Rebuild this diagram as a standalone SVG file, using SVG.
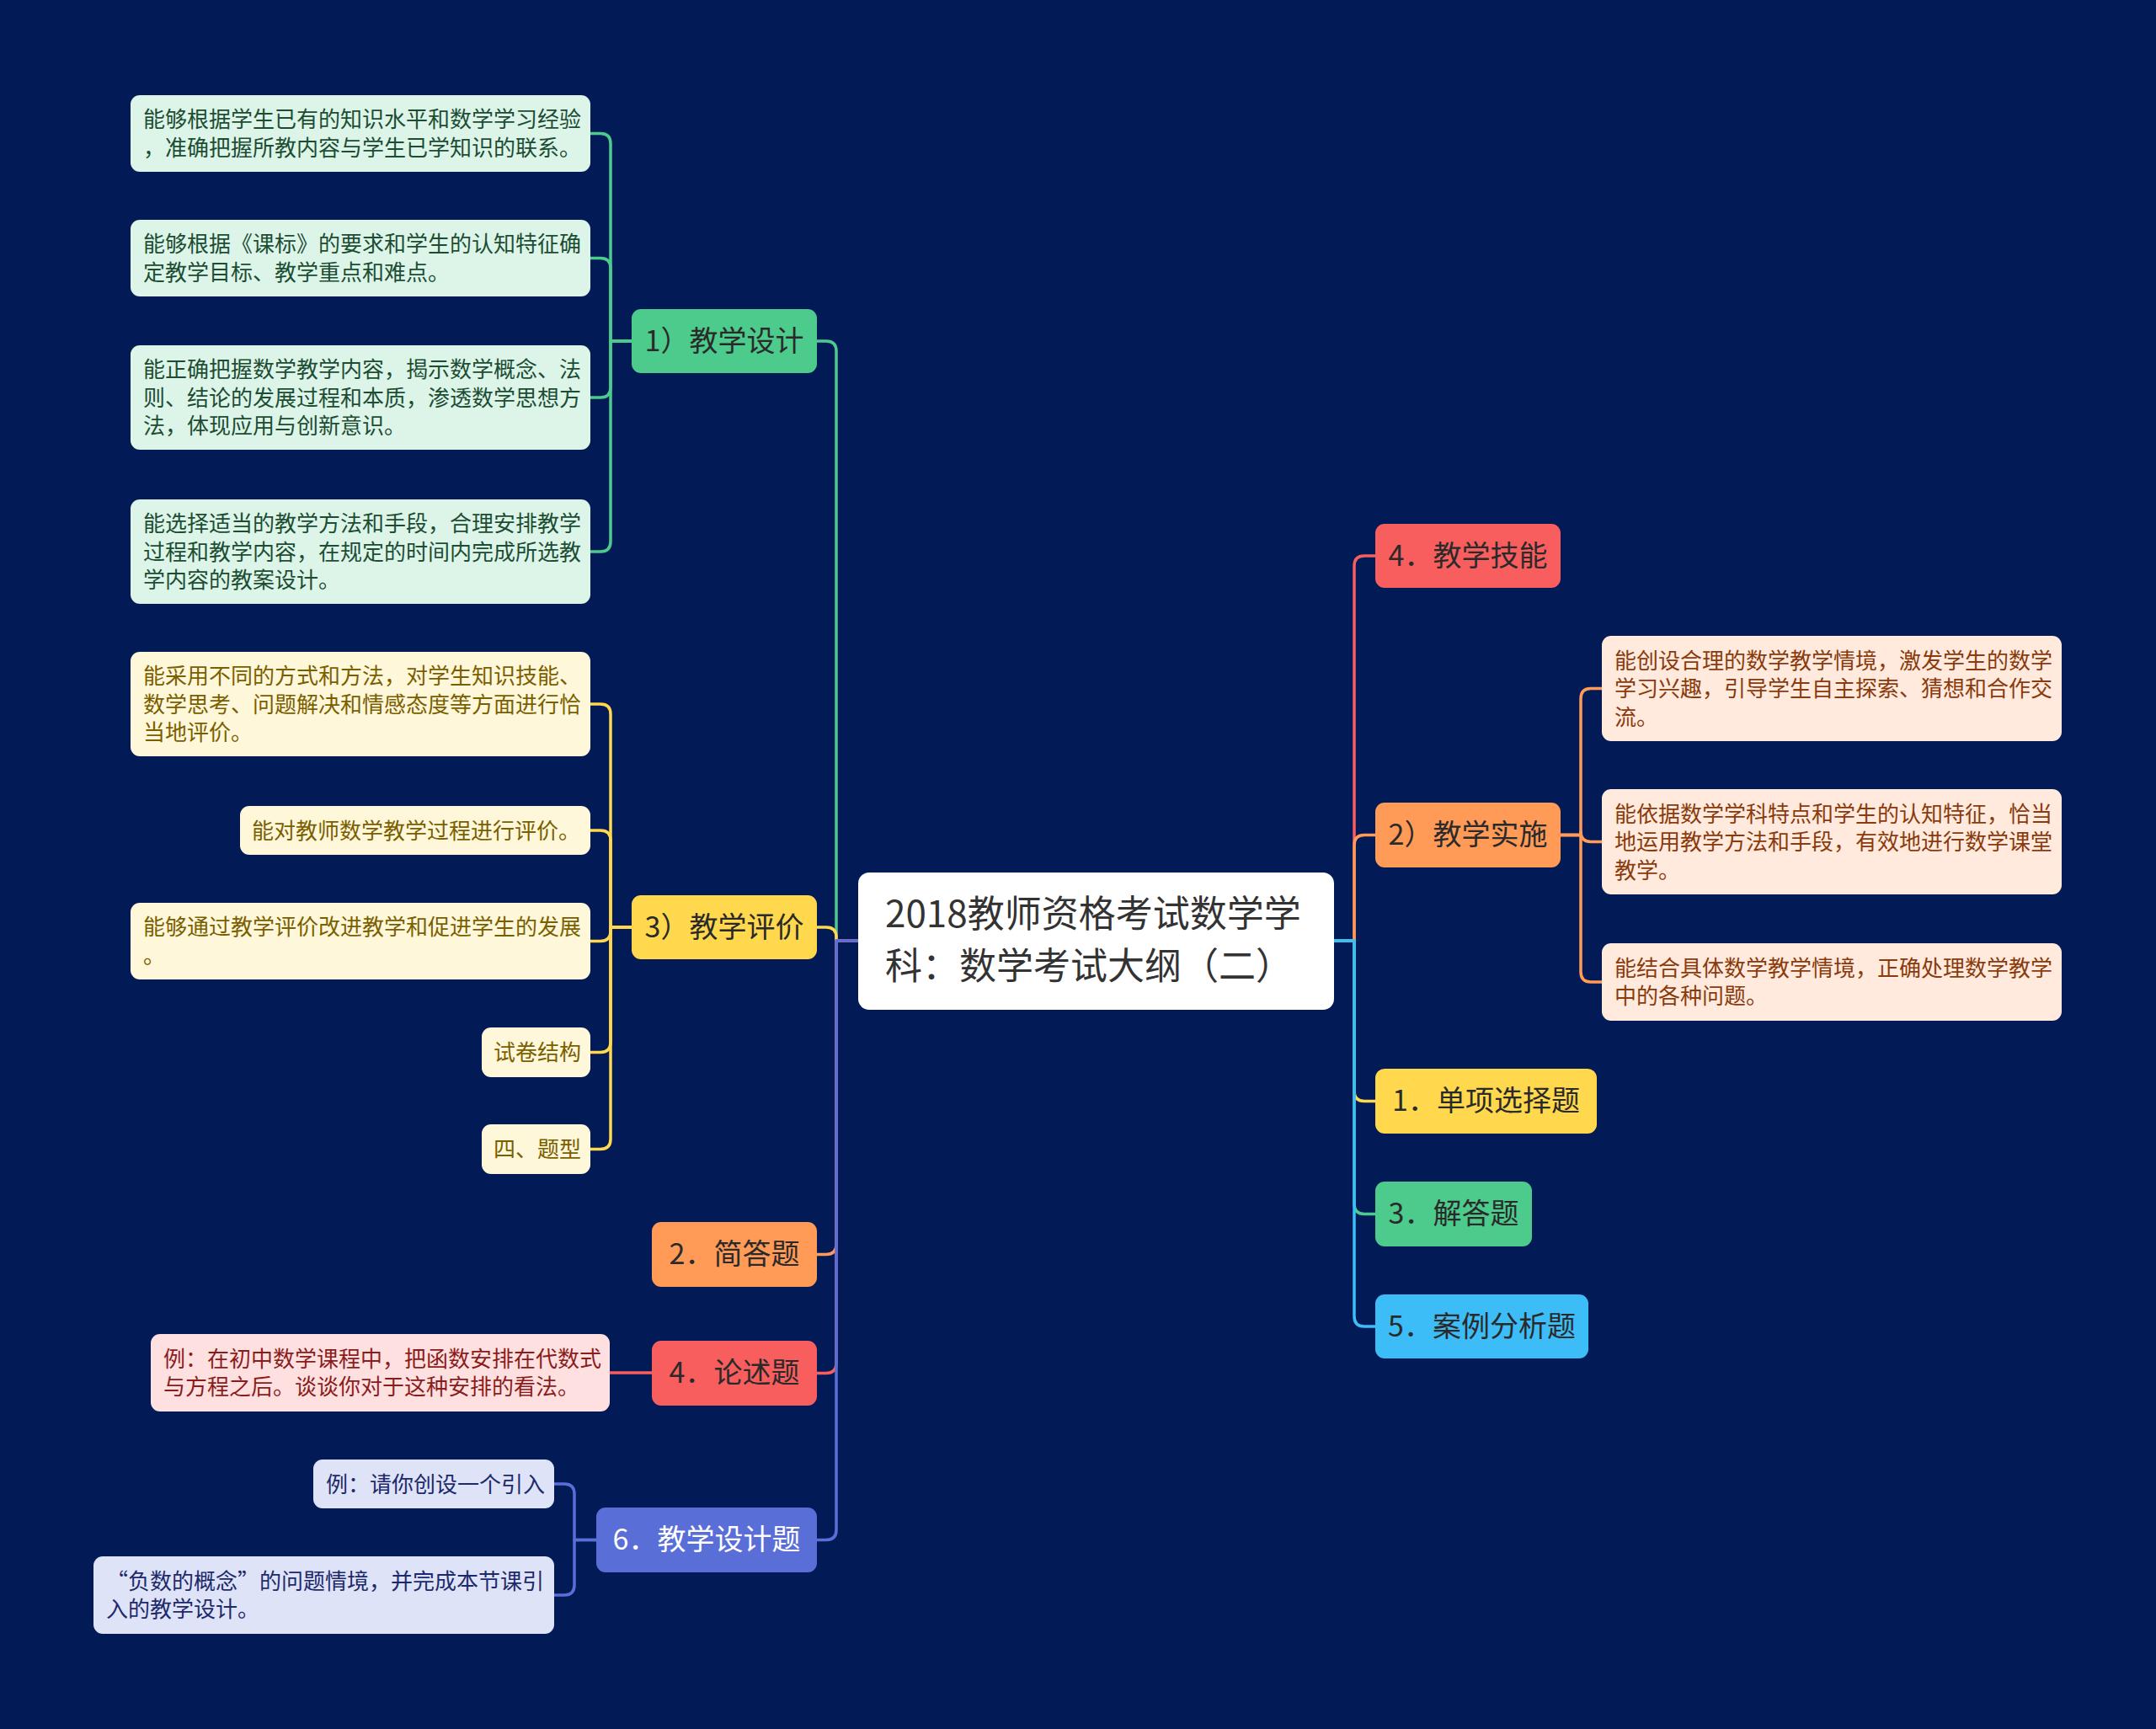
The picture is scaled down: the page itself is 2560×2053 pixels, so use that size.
<svg xmlns="http://www.w3.org/2000/svg" width="2560" height="2053" viewBox="0 0 2560 2053">
<style>
text{font-family:"Noto Sans CJK SC","Noto Sans",sans-serif}
.c{fill:none;stroke-width:3.5;stroke-linecap:round;stroke-linejoin:round}
.l1{font-size:34px;text-anchor:middle;fill:#2a2a2a}
.lf{font-size:26px}
.root{font-size:44px;fill:#333333}
.g{stroke:#4ccb8c}.y{stroke:#ffd84d}.o{stroke:#ff9a57}.r{stroke:#f85e5e}.b{stroke:#5a6ed8}.s{stroke:#3dbdf8}
</style>
<rect x="0" y="0" width="2560" height="2053" fill="#021b56"/>
<g id="connectors">
<path class="c g" d="M1019 1117 H993 V417 Q993 405 981 405 H970"/>
<path class="c y" d="M1019 1117 H993 V1113 Q993 1101 981 1101 H970"/>
<path class="c o" d="M1019 1117 H993 V1477.5 Q993 1489.5 981 1489.5 H970"/>
<path class="c r" d="M1019 1117 H993 V1618.5 Q993 1630.5 981 1630.5 H970"/>
<path class="c b" d="M1019 1117 H993 V1816.5 Q993 1828.5 981 1828.5 H970"/>
<path class="c r" d="M1584 1117 H1608 V672 Q1608 660 1620 660 H1633"/>
<path class="c o" d="M1584 1117 H1608 V1003.5 Q1608 991.5 1620 991.5 H1633"/>
<path class="c y" d="M1584 1117 H1608 V1295.5 Q1608 1307.5 1620 1307.5 H1633"/>
<path class="c g" d="M1584 1117 H1608 V1429.5 Q1608 1441.5 1620 1441.5 H1633"/>
<path class="c s" d="M1584 1117 H1608 V1563 Q1608 1575 1620 1575 H1633"/>
<path class="c g" d="M750 405 H725 V170.5 Q725 158.5 713 158.5 H701"/>
<path class="c g" d="M750 405 H725 V318.5 Q725 306.5 713 306.5 H701"/>
<path class="c g" d="M750 405 H725 V460 Q725 472 713 472 H701"/>
<path class="c g" d="M750 405 H725 V643 Q725 655 713 655 H701"/>
<path class="c y" d="M750 1101 H725 V848 Q725 836 713 836 H701"/>
<path class="c y" d="M750 1101 H725 V998 Q725 986 713 986 H701"/>
<path class="c y" d="M750 1101 H725 V1105.5 Q725 1117.5 713 1117.5 H701"/>
<path class="c y" d="M750 1101 H725 V1237.5 Q725 1249.5 713 1249.5 H701"/>
<path class="c y" d="M750 1101 H725 V1352.5 Q725 1364.5 713 1364.5 H701"/>
<path class="c r" d="M774 1630 H724"/>
<path class="c b" d="M708 1828.5 H682 V1774 Q682 1762 670 1762 H658"/>
<path class="c b" d="M708 1828.5 H682 V1882 Q682 1894 670 1894 H658"/>
<path class="c o" d="M1853 991.5 H1877 V829.5 Q1877 817.5 1889 817.5 H1902"/>
<path class="c o" d="M1853 991.5 H1877 V987.5 Q1877 999.5 1889 999.5 H1902"/>
<path class="c o" d="M1853 991.5 H1877 V1154 Q1877 1166 1889 1166 H1902"/>
</g>
<g id="root">
<rect x="1019" y="1036" width="565" height="163" rx="13" fill="#ffffff"/>
<text class="root" x="1051" y="1101">2018教师资格考试数学学</text>
<text class="root" x="1051" y="1163">科：数学考试大纲（二）</text>
</g>
<g id="n-jxsj">
<rect x="750" y="367" width="220" height="76" rx="11" fill="#4ccb8c"/>
<text class="l1" x="860" y="417">1）教学设计</text>
</g>
<g id="n-jxpj">
<rect x="750" y="1063" width="220" height="76" rx="11" fill="#ffd84d"/>
<text class="l1" x="860" y="1113">3）教学评价</text>
</g>
<g id="n-jdt">
<rect x="774" y="1451" width="196" height="77" rx="11" fill="#ff9a57"/>
<text class="l1" x="872" y="1501">2．简答题</text>
</g>
<g id="n-lst">
<rect x="774" y="1592" width="196" height="77" rx="11" fill="#f85e5e"/>
<text class="l1" x="872" y="1642">4．论述题</text>
</g>
<g id="n-jxsjt">
<rect x="708" y="1790" width="262" height="77" rx="11" fill="#5a6ed8"/>
<text class="l1" x="839" y="1840" style="fill:#ffffff">6．教学设计题</text>
</g>
<g id="n-jxjn">
<rect x="1633" y="622" width="220" height="76" rx="11" fill="#f85e5e"/>
<text class="l1" x="1743" y="672">4．教学技能</text>
</g>
<g id="n-jxss">
<rect x="1633" y="953" width="220" height="77" rx="11" fill="#ff9a57"/>
<text class="l1" x="1743" y="1003">2）教学实施</text>
</g>
<g id="n-dxxzt">
<rect x="1633" y="1269" width="263" height="77" rx="11" fill="#ffd84d"/>
<text class="l1" x="1764.5" y="1319">1．单项选择题</text>
</g>
<g id="n-jdt3">
<rect x="1633" y="1403" width="186" height="77" rx="11" fill="#4ccb8c"/>
<text class="l1" x="1726" y="1453">3．解答题</text>
</g>
<g id="n-alfxt">
<rect x="1633" y="1537" width="253" height="76" rx="11" fill="#3dbdf8"/>
<text class="l1" x="1759.5" y="1587">5．案例分析题</text>
</g>
<g id="leaf-g1" fill="#1c4d33">
<rect x="155" y="113" width="546" height="91" rx="11" fill="#ddf5e9"/>
<text class="lf" x="170" y="151">能够根据学生已有的知识水平和数学学习经验</text>
<text class="lf" x="170" y="185">，准确把握所教内容与学生已学知识的联系。</text>
</g>
<g id="leaf-g2" fill="#1c4d33">
<rect x="155" y="261" width="546" height="91" rx="11" fill="#ddf5e9"/>
<text class="lf" x="170" y="299">能够根据《课标》的要求和学生的认知特征确</text>
<text class="lf" x="170" y="333">定教学目标、教学重点和难点。</text>
</g>
<g id="leaf-g3" fill="#1c4d33">
<rect x="155" y="410" width="546" height="124" rx="11" fill="#ddf5e9"/>
<text class="lf" x="170" y="448">能正确把握数学教学内容，揭示数学概念、法</text>
<text class="lf" x="170" y="481.5">则、结论的发展过程和本质，渗透数学思想方</text>
<text class="lf" x="170" y="515">法，体现应用与创新意识。</text>
</g>
<g id="leaf-g4" fill="#1c4d33">
<rect x="155" y="593" width="546" height="124" rx="11" fill="#ddf5e9"/>
<text class="lf" x="170" y="631">能选择适当的教学方法和手段，合理安排教学</text>
<text class="lf" x="170" y="664.5">过程和教学内容，在规定的时间内完成所选教</text>
<text class="lf" x="170" y="698">学内容的教案设计。</text>
</g>
<g id="leaf-y1" fill="#7a5f00">
<rect x="155" y="774" width="546" height="124" rx="11" fill="#fff7d9"/>
<text class="lf" x="170" y="812">能采用不同的方式和方法，对学生知识技能、</text>
<text class="lf" x="170" y="845.5">数学思考、问题解决和情感态度等方面进行恰</text>
<text class="lf" x="170" y="879">当地评价。</text>
</g>
<g id="leaf-y2" fill="#7a5f00">
<rect x="285" y="957" width="416" height="58" rx="11" fill="#fff7d9"/>
<text class="lf" x="299" y="995.5">能对教师数学教学过程进行评价。</text>
</g>
<g id="leaf-y3" fill="#7a5f00">
<rect x="155" y="1072" width="546" height="91" rx="11" fill="#fff7d9"/>
<text class="lf" x="170" y="1110">能够通过教学评价改进教学和促进学生的发展</text>
<text class="lf" x="170" y="1144">。</text>
</g>
<g id="leaf-y4" fill="#7a5f00">
<rect x="572" y="1220" width="129" height="59" rx="11" fill="#fff7d9"/>
<text class="lf" x="586" y="1259">试卷结构</text>
</g>
<g id="leaf-y5" fill="#7a5f00">
<rect x="572" y="1335" width="129" height="59" rx="11" fill="#fff7d9"/>
<text class="lf" x="586" y="1374">四、题型</text>
</g>
<g id="leaf-r1" fill="#8b1c1c">
<rect x="179" y="1584" width="545" height="92" rx="11" fill="#ffe0e0"/>
<text class="lf" x="194" y="1623">例：在初中数学课程中，把函数安排在代数式</text>
<text class="lf" x="194" y="1656">与方程之后。谈谈你对于这种安排的看法。</text>
</g>
<g id="leaf-b1" fill="#1c2a6b">
<rect x="372" y="1733" width="286" height="58" rx="11" fill="#dfe3f7"/>
<text class="lf" x="387" y="1771.5">例：请你创设一个引入</text>
</g>
<g id="leaf-b2" fill="#1c2a6b">
<rect x="111" y="1848" width="547" height="92" rx="11" fill="#dfe3f7"/>
<text class="lf" x="126" y="1887">“负数的概念”的问题情境，并完成本节课引</text>
<text class="lf" x="126" y="1920">入的教学设计。</text>
</g>
<g id="leaf-o1" fill="#8a3a0c">
<rect x="1902" y="755" width="546" height="125" rx="11" fill="#ffeadd"/>
<text class="lf" x="1917" y="793.5">能创设合理的数学教学情境，激发学生的数学</text>
<text class="lf" x="1917" y="827">学习兴趣，引导学生自主探索、猜想和合作交</text>
<text class="lf" x="1917" y="860.5">流。</text>
</g>
<g id="leaf-o2" fill="#8a3a0c">
<rect x="1902" y="937" width="546" height="125" rx="11" fill="#ffeadd"/>
<text class="lf" x="1917" y="975.5">能依据数学学科特点和学生的认知特征，恰当</text>
<text class="lf" x="1917" y="1009">地运用教学方法和手段，有效地进行数学课堂</text>
<text class="lf" x="1917" y="1042.5">教学。</text>
</g>
<g id="leaf-o3" fill="#8a3a0c">
<rect x="1902" y="1120" width="546" height="92" rx="11" fill="#ffeadd"/>
<text class="lf" x="1917" y="1159">能结合具体数学教学情境，正确处理数学教学</text>
<text class="lf" x="1917" y="1192">中的各种问题。</text>
</g>
</svg>
